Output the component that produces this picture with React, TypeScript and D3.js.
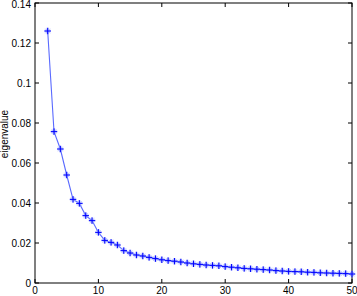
import React from 'react';
import * as d3 from 'd3';

// eigenvalue index (x) and value (y)
const indices = [
  2, 3, 4, 5, 6, 7, 8, 9, 10, 11, 12, 13, 14, 15, 16, 17, 18, 19, 20, 21, 22, 23, 24, 25, 26,
  27, 28, 29, 30, 31, 32, 33, 34, 35, 36, 37, 38, 39, 40, 41, 42, 43, 44, 45, 46, 47, 48, 49, 50,
];
const eigenvalues = [
  0.126, 0.0757, 0.067, 0.054, 0.0418, 0.0398, 0.0337, 0.0312, 0.0253, 0.0213, 0.0203, 0.019,
  0.0162, 0.015, 0.014, 0.0135, 0.0128, 0.0122, 0.0116, 0.0112, 0.0109, 0.0105, 0.01, 0.0096,
  0.0093, 0.009, 0.0088, 0.0086, 0.0082, 0.0079, 0.0076, 0.0073, 0.0071, 0.0069, 0.0067, 0.0065,
  0.0062, 0.006, 0.0058, 0.0057, 0.0056, 0.0054, 0.0053, 0.0051, 0.005, 0.0049, 0.0048, 0.0047,
  0.0045,
];
const xTicks = [0, 10, 20, 30, 40, 50];
const yTicks = [0, 0.02, 0.04, 0.06, 0.08, 0.1, 0.12, 0.14];
const yLabel = 'eigenvalue';

const width = 357;
const height = 296;
const margin = { top: 3, right: 5, bottom: 13, left: 35 };
const font = 'Arial, "Liberation Sans", Helvetica, sans-serif';

export default function App() {
  const x = d3.scaleLinear().domain([0, 50]).range([margin.left, width - margin.right]);
  const y = d3.scaleLinear().domain([0, 0.14]).range([height - margin.bottom, margin.top]);

  const points = indices.map((d, i) => [x(d), y(eigenvalues[i])] as [number, number]);
  const line = d3.line()(points) || '';

  const x0 = x(0), x1 = x(50), y0 = y(0), y1 = y(0.14);
  const tick = 4;
  const m = 3.2; // marker half size

  return (
    <div style={{ position: 'absolute', left: 0, top: 0 }}>
      <svg width={width} height={height} style={{ display: 'block', background: '#fff' }}>
        {/* axes box */}
        <rect x={x0} y={y1} width={x1 - x0} height={y0 - y1} fill="none" stroke="#000" strokeWidth={1} />

        {xTicks.map(t => (
          <g key={'x' + t}>
            <line x1={x(t)} x2={x(t)} y1={y0} y2={y0 - tick} stroke="#000" />
            <line x1={x(t)} x2={x(t)} y1={y1} y2={y1 + tick} stroke="#000" />
            <text x={x(t)} y={y0 + 11} textAnchor="middle" fontSize={10} fontFamily={font}>{t}</text>
          </g>
        ))}
        {yTicks.map(t => (
          <g key={'y' + t}>
            <line x1={x0} x2={x0 + tick} y1={y(t)} y2={y(t)} stroke="#000" />
            <line x1={x1} x2={x1 - tick} y1={y(t)} y2={y(t)} stroke="#000" />
            <text x={x0 - 4} y={Math.max(y(t) + 3.5, 8)} textAnchor="end" fontSize={10} fontFamily={font}>{t}</text>
          </g>
        ))}

        <text
          transform={`translate(8, 134) rotate(-90)`}
          textAnchor="middle"
          fontSize={10}
          fontFamily={font}
        >
          {yLabel}
        </text>

        {/* series */}
        <path d={line} fill="none" stroke="#5a6aff" strokeWidth={1.1} />
        {points.map(([px, py], i) => (
          <g key={i}>
            <path
              d={`M${px - m},${py}H${px + m}M${px},${py - m}V${py + m}`}
              stroke="#90a0ff"
              strokeWidth={2.4}
              opacity={0.6}
            />
            <path
              d={`M${px - 2.3},${py - 2.3}L${px + 2.3},${py + 2.3}M${px - 2.3},${py + 2.3}L${px + 2.3},${py - 2.3}`}
              stroke="#90a0ff"
              strokeWidth={1}
              opacity={0.6}
            />
            <path d={`M${px - m},${py}H${px + m}M${px},${py - m}V${py + m}`} stroke="#0000ff" strokeWidth={1} />
          </g>
        ))}
      </svg>
    </div>
  );
}
